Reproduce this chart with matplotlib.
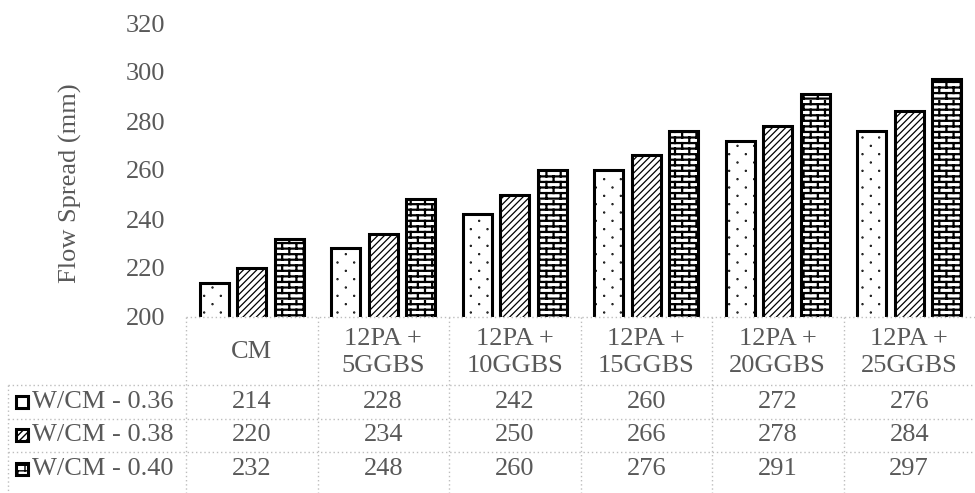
import warnings
import numpy as np
import matplotlib
matplotlib.use("Agg")
import matplotlib.pyplot as plt
from matplotlib import hatch as mhatch
from matplotlib.path import Path
from matplotlib.patches import Rectangle

warnings.filterwarnings("ignore")

# ---- data -------------------------------------------------------------
categories = ["CM", "12PA +\n5GGBS", "12PA +\n10GGBS", "12PA +\n15GGBS",
              "12PA +\n20GGBS", "12PA +\n25GGBS"]
series_names = ["W/CM - 0.36", "W/CM - 0.38", "W/CM - 0.40"]
wcm_036 = [214, 228, 242, 260, 272, 276]
wcm_038 = [220, 234, 250, 266, 278, 284]
wcm_040 = [232, 248, 260, 276, 291, 297]
y_ticks = [200, 220, 240, 260, 280, 300, 320]
y_label = "Flow Spread (mm)"


# ---- custom hatch patterns (staggered dots and brick wall) -------------
class DotLatticeHatch(mhatch.HatchPatternBase):
    def __init__(self, hatch, density):
        n = hatch.count('d')
        self.rows = 2 * int(n * density / 2)
        self.cols = max(1, self.rows // 2)
        circ = Path.unit_circle()
        self._cv = circ.vertices
        self._cc = circ.codes
        self.num_vertices = self.rows * self.cols * len(self._cv) if n else 0

    def set_vertices_and_codes(self, vertices, codes):
        nv = len(self._cv)
        k = 0
        for i in range(self.rows):
            y = (i + 0.5) / self.rows
            shift = 0.5 * (i % 2)
            for j in range(self.cols):
                xx = (j + 0.25 + shift) / self.cols
                vertices[k * nv:(k + 1) * nv] = self._cv * 0.004 + [xx, y]
                codes[k * nv:(k + 1) * nv] = self._cc
                k += 1


class BrickHatch(mhatch.HatchPatternBase):
    def __init__(self, hatch, density):
        n = hatch.count('k')
        self.rows = 2 * int(n * density / 2)
        self.cols = max(1, int(round(self.rows * 0.4)))
        self.num_vertices = 2 * (self.rows + self.rows * self.cols) if n else 0

    def set_vertices_and_codes(self, vertices, codes):
        segs = []
        for i in range(self.rows):
            y0 = (i + 0.25) / self.rows
            y1 = (i + 1.25) / self.rows
            segs.append(((0.0, y0), (1.0, y0)))
            shift = 0.5 * (i % 2)
            for j in range(self.cols):
                xx = (j + 0.25 + shift) / self.cols
                segs.append(((xx, y0), (xx, y1)))
        vertices[:] = np.array(segs, dtype=float).reshape(-1, 2)
        codes[0::2] = Path.MOVETO
        codes[1::2] = Path.LINETO


mhatch._hatch_types.append(DotLatticeHatch)
mhatch._hatch_types.append(BrickHatch)

# ---- style ------------------------------------------------------------
plt.rcParams['font.family'] = ['Liberation Serif', 'DejaVu Serif']
plt.rcParams['hatch.color'] = 'black'
plt.rcParams['hatch.linewidth'] = 1.0
TXT = '#595959'
GRID = '#bdbdbd'
FS = 19

fig = plt.figure(figsize=(9.75, 4.93), dpi=100)
ax = fig.add_axes([186 / 975, 1 - 317 / 493, 1 - 186 / 975, (317 - 23) / 493])

series = [wcm_036, wcm_038, wcm_040]
hatches = ['dd', '/////', 'kkk']
hatch_lw = [1.1, 0.9, 1.6]
offsets = [-0.285, 0.0, 0.285]
x = np.arange(len(categories))

for vals, h, off, hl in zip(series, hatches, offsets, hatch_lw):
    bars = ax.bar(x + off, vals, width=0.222, color='white',
                  edgecolor='black', linewidth=2.2, hatch=h)
    for b in bars:
        if hasattr(b, 'set_hatch_linewidth'):
            b.set_hatch_linewidth(hl)

ax.set_xlim(-0.5, len(categories) - 0.5)
ax.set_ylim(200, 320)
ax.set_yticks(y_ticks)
ax.set_xticks([])
ax.tick_params(axis='y', length=0, pad=15, labelsize=FS, labelcolor=TXT)
for s in ax.spines.values():
    s.set_visible(False)

fig.text(70 / 975, 1 - 183 / 493, y_label, rotation=90, ha='center',
         va='center', fontsize=FS, color=TXT)

# ---- data table under the plot -----------------------------------------
tr = ax.transAxes
ncat = len(categories)
header_h = 68 / 294
row_h = 33.5 / 294
left_edge = (8 - 186) / 789
dot = dict(color=GRID, lw=1.0, linestyle=(0, (1, 2)), clip_on=False,
           transform=tr)

table_bottom = -(header_h + row_h * len(series)) - 0.05
# top border (category axis line)
ax.plot([0, 1], [0, 0], **dot)
# row separators
for r in range(len(series)):
    yy = -(header_h + r * row_h)
    ax.plot([left_edge, 1], [yy, yy], **dot)
# vertical separators
ax.plot([0, 0], [0, table_bottom], **dot)
ax.plot([left_edge, left_edge], [-header_h, table_bottom], **dot)
for c in range(1, ncat):
    ax.plot([c / ncat, c / ncat], [0, table_bottom], **dot)

# header
for c, name in enumerate(categories):
    ax.text((c + 0.5) / ncat, -header_h / 2 - 0.005, name, transform=tr,
            ha='center', va='center', fontsize=FS, color=TXT,
            linespacing=1.3)

# rows
key_w = 12 / 789
key_h = 12 / 294
for r, (name, vals, h) in enumerate(zip(series_names, series, hatches)):
    yc = -(header_h + (r + 0.5) * row_h)
    key = Rectangle(((16 - 186) / 789, yc - key_h / 2), key_w, key_h,
                    transform=tr, clip_on=False, facecolor='white',
                    edgecolor='black', linewidth=2.2, hatch=h)
    ax.add_patch(key)
    ax.text((32 - 186) / 789, yc, name, transform=tr, ha='left',
            va='center', fontsize=FS, color=TXT)
    for c, v in enumerate(vals):
        ax.text((c + 0.5) / ncat, yc, f"{v}", transform=tr, ha='center',
                va='center', fontsize=FS, color=TXT)

fig.savefig("out.png", dpi=100)
